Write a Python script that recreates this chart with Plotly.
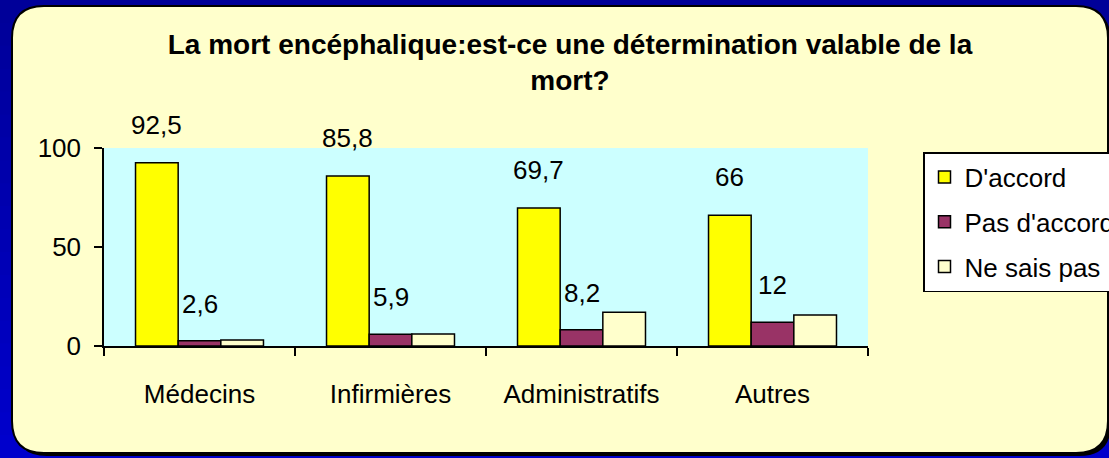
import plotly.graph_objects as go

categories = ["Médecins", "Infirmières", "Administratifs", "Autres"]
series_names = ["D'accord", "Pas d'accord", "Ne sais pas"]
d_accord = [92.5, 85.8, 69.7, 66]
pas_d_accord = [2.6, 5.9, 8.2, 12]
ne_sais_pas = [3, 6, 17, 15.6]
label_d_accord = ["92,5", "85,8", "69,7", "66"]
label_pas_d_accord = ["2,6", "5,9", "8,2", "12"]

colors = ["#FFFF00", "#993366", "#FFFFCC"]
FONT = "Liberation Sans, Arial, sans-serif"

# plot area in pixels
L, R, T, B = 104, 868, 148, 346
W, H = 1109, 458


def px_x(p):
    return (p - L) / (R - L)


def px_y(p):
    return (B - p) / (B - T)


def rounded_path(x0, y0, x1, y1, r):
    pts = [
        ("M", [(x0 + r, y0)]),
        ("L", [(x1 - r, y0)]),
        ("Q", [(x1, y0), (x1, y0 + r)]),
        ("L", [(x1, y1 - r)]),
        ("Q", [(x1, y1), (x1 - r, y1)]),
        ("L", [(x0 + r, y1)]),
        ("Q", [(x0, y1), (x0, y1 - r)]),
        ("L", [(x0, y0 + r)]),
        ("Q", [(x0, y0), (x0 + r, y0)]),
    ]
    s = ""
    for cmd, ps in pts:
        s += cmd + " " + " ".join("%.5f,%.5f" % (px_x(a), px_y(b)) for a, b in ps) + " "
    return s + "Z"


fig = go.Figure()
for name, vals, col in zip(series_names, [d_accord, pas_d_accord, ne_sais_pas], colors):
    fig.add_trace(go.Bar(
        x=categories, y=vals, name=name, legendgroup=name,
        marker=dict(color=col, line=dict(color="black", width=1.5)),
        hoverinfo="skip",
    ))

shapes = []
# blue gradient background
n = 20
for i in range(n):
    c = int(0x99 + (0xCC - 0x99) * i / (n - 1))
    shapes.append(dict(type="rect", xref="paper", yref="paper", layer="below",
                       x0=px_x(0), x1=px_x(W), y0=px_y(i * H / n), y1=px_y((i + 1) * H / n + 1),
                       line=dict(width=0), fillcolor="rgb(0,0,%d)" % c))
# shadow + rounded box
shapes.append(dict(type="path", xref="paper", yref="paper", layer="below",
                   path=rounded_path(15, 9, 1111, 456, 32), fillcolor="black", line=dict(width=0)))
shapes.append(dict(type="path", xref="paper", yref="paper", layer="below",
                   path=rounded_path(12, 6, 1108, 453, 32), fillcolor="#FFFFCC",
                   line=dict(color="black", width=2)))
# plot area
shapes.append(dict(type="rect", xref="paper", yref="paper", layer="below",
                   x0=0, x1=1, y0=0, y1=1, fillcolor="#CCFFFF", line=dict(width=0)))

bar_w = (1 - 0.33) / 3
annotations = []
for i, (v, t) in enumerate(zip(d_accord, label_d_accord)):
    annotations.append(dict(x=i - bar_w, y=v, text=t, showarrow=False, yshift=38,
                            yanchor="middle", font=dict(size=26, color="black", family=FONT)))
for i, (v, t) in enumerate(zip(pas_d_accord, label_pas_d_accord)):
    annotations.append(dict(x=i, y=v, text=t, showarrow=False, yshift=37,
                            yanchor="middle", font=dict(size=26, color="black", family=FONT)))

fig.update_layout(
    width=W, height=H, autosize=False,
    margin=dict(l=L, r=W - R, t=T, b=H - B, pad=0),
    paper_bgcolor="#0000B3",
    plot_bgcolor="rgba(0,0,0,0)",
    barmode="group", bargap=0.33, bargroupgap=0,
    font=dict(family=FONT, size=26, color="black"),
    title=dict(text="<b>La mort encéphalique:est-ce une détermination valable de la<br>mort?</b>",
               x=570 / W, xanchor="center", xref="container",
               y=1 - 54 / H, yanchor="top", yref="container",
               font=dict(size=28, family=FONT, color="black")),
    xaxis=dict(showline=True, linecolor="black", linewidth=1.5, ticks="outside",
               tickson="boundaries", ticklen=8, tickwidth=1.5, tickcolor="black",
               showgrid=False, ticklabelstandoff=24, tickfont=dict(size=26)),
    yaxis=dict(range=[0, 100], tickvals=[0, 50, 100], showline=True, linecolor="black",
               linewidth=1.5, ticks="outside", ticklen=8, tickwidth=1.5, tickcolor="black",
               showgrid=False, zeroline=False, ticklabelstandoff=8, tickfont=dict(size=26)),
    legend=dict(x=923 / W, y=1 - 152 / H, xanchor="left", yanchor="top",
                xref="container", yref="container",
                bgcolor="white", bordercolor="black", borderwidth=1.5,
                font=dict(size=26), tracegroupgap=8, traceorder="grouped"),
    shapes=shapes,
    annotations=annotations,
    showlegend=True,
)

fig.write_html("out.html", config={"responsive": False, "displayModeBar": False},
               post_script="document.body.style.margin='0px';document.body.style.overflow='hidden';")
